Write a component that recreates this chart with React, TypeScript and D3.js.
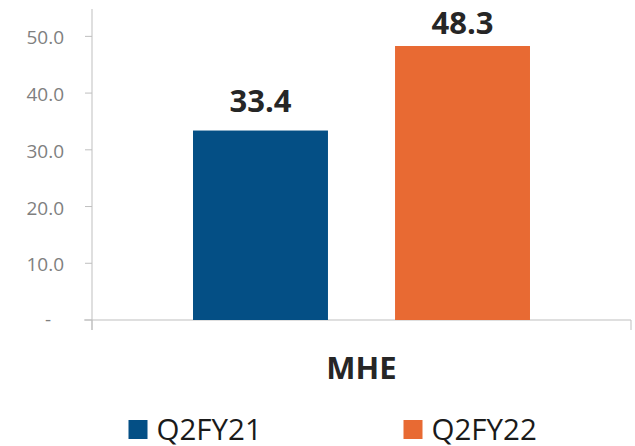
import React from "react";
import * as d3 from "d3";

const categories = ["MHE"];
const seriesNames = ["Q2FY21", "Q2FY22"];
const seriesValues = [33.4, 48.3];
const seriesColors = ["#044F85", "#E86A33"];
const yTicks = [0, 10, 20, 30, 40, 50];

const W = 635;
const H = 446;
const FONT = "'Open Sans', 'Noto Sans', sans-serif";

export default function App() {
  const x0 = 92;
  const x1 = 631;
  const yBase = 320;
  const yTop = 8;

  const y = d3.scaleLinear().domain([0, 55]).range([yBase, yTop]);
  const xOuter = d3.scaleBand<string>().domain(categories).range([x0, x1]).padding(0);
  const xInner = d3
    .scaleBand<string>()
    .domain(seriesNames)
    .range([0, xOuter.bandwidth()])
    .paddingInner(0.332)
    .paddingOuter(0.5);

  const fmt = (v: number) => (v === 0 ? "-" : d3.format(".1f")(v));
  const axisColor = "#BFBFBF";

  return (
    <svg
      width={W}
      height={H}
      style={{ position: "absolute", left: 0, top: 0, display: "block" }}
      fontFamily={FONT}
    >
      <rect x={0} y={0} width={W} height={H} fill="#ffffff" />
      {/* y axis */}
      <line x1={x0} x2={x0} y1={y(55) + 1} y2={yBase + 10} stroke={axisColor} strokeWidth={1} />
      {yTicks.map((t) => (
        <g key={t}>
          <line x1={x0 - 7} x2={x0} y1={y(t)} y2={y(t)} stroke={axisColor} strokeWidth={1} />
          <text
            x={t === 0 ? 51 : 64}
            y={y(t)}
            dy={t === 0 ? "0.3em" : "0.42em"}
            textAnchor="end"
            fontSize={19}
            fill="#7F7F7F"
          >
            {fmt(t)}
          </text>
        </g>
      ))}
      {/* x axis */}
      <line x1={x0 - 8} x2={x1} y1={yBase} y2={yBase} stroke={axisColor} strokeWidth={1} />
      {[x0, x1].map((xx, i) => (
        <line key={i} x1={xx} x2={xx} y1={yBase} y2={yBase + 10} stroke={axisColor} strokeWidth={1} />
      ))}
      {/* bars */}
      {categories.map((c) => (
        <g key={c} transform={`translate(${xOuter(c)},0)`}>
          {seriesNames.map((s, i) => {
            const v = seriesValues[i];
            const bx = xInner(s) as number;
            const bw = xInner.bandwidth();
            const labelY = Math.max(y(v) - 19, 33.5);
            return (
              <g key={s}>
                <rect x={bx} y={y(v)} width={bw} height={yBase - y(v)} fill={seriesColors[i]} />
                <text
                  x={bx + bw / 2}
                  y={labelY}
                  textAnchor="middle"
                  fontSize={31}
                  fontWeight="bold"
                  fill="#262626"
                >
                  {d3.format(".1f")(v)}
                </text>
              </g>
            );
          })}
          <text
            x={xOuter.bandwidth() / 2}
            y={378.5}
            textAnchor="middle"
            fontSize={31}
            fontWeight="bold"
            fill="#262626"
          >
            {c}
          </text>
        </g>
      ))}
      {/* legend */}
      {seriesNames.map((s, i) => {
        const lx = [128.5, 403.5][i];
        return (
          <g key={s}>
            <rect x={lx} y={420} width={19} height={19} fill={seriesColors[i]} />
            <text x={lx + 28} y={440} fontSize={29.5} fill="#1a1a1a">
              {s}
            </text>
          </g>
        );
      })}
    </svg>
  );
}
